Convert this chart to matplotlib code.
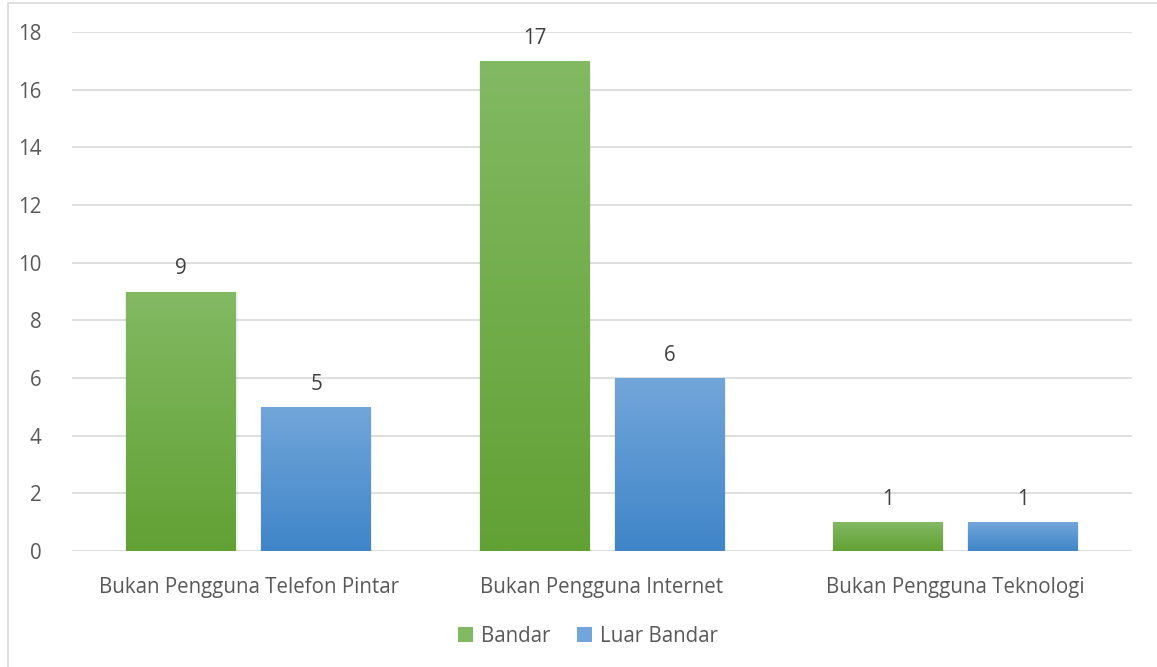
import numpy as np
import matplotlib.pyplot as plt
from matplotlib.colors import LinearSegmentedColormap
from matplotlib.patches import Rectangle

categories = ["Bukan Pengguna Telefon Pintar", "Bukan Pengguna Internet", "Bukan Pengguna Teknologi"]
bandar = [9, 17, 1]
luar_bandar = [5, 6, 1]
series = [("Bandar", bandar, "#82b963", "#62a134"), ("Luar Bandar", luar_bandar, "#72a6da", "#3f85c8")]

plt.rcParams['font.family'] = ['Open Sans', 'DejaVu Sans']
txt = "#595959"
fs = 14.8

fig = plt.figure(figsize=(11.57, 6.67), dpi=100)
ax = fig.add_axes([0.0622, 0.1739, 0.9162, 0.7781])

# chart frame
fig.patches.append(Rectangle((8/1157, -0.1), 1.2, 1 - 3/667 + 0.1, transform=fig.transFigure,
                             fill=False, edgecolor="#d9d9d9", linewidth=1.2))

x = np.arange(len(categories))
w = 0.311
offs = [-0.191, 0.191]
grad = np.linspace(1, 0, 256).reshape(-1, 1)

for (name, vals, ctop, cbot), off in zip(series, offs):
    cmap = LinearSegmentedColormap.from_list(name, [cbot, ctop])
    bars = ax.bar(x + off, vals, w, color=ctop, label=name, zorder=2)
    for b, v in zip(bars, vals):
        x0, y0 = b.get_x(), b.get_y()
        bw, bh = b.get_width(), b.get_height()
        # soft shadow
        ax.add_patch(Rectangle((x0 - 0.002, y0), bw + 0.006, bh - 0.03, color="#000000",
                               alpha=0.06, zorder=1.5, linewidth=0))
        im = ax.imshow(grad, cmap=cmap, aspect='auto', extent=[x0, x0 + bw, y0, y0 + bh],
                       zorder=2.5, interpolation='bilinear')
        im.set_clip_path(b)
        ax.text(x0 + bw / 2, v + 0.42, str(v), ha='center', va='bottom', fontsize=fs, color="#404040")

ax.set_xlim(-0.5, 2.5)
ax.set_ylim(0, 18)
ax.set_yticks(range(0, 19, 2))
ax.set_xticks(x)
ax.set_xticklabels(categories)
ax.tick_params(axis='both', length=0, labelsize=fs, labelcolor=txt)
ax.tick_params(axis='x', pad=19)
ax.tick_params(axis='y', pad=22)
ax.grid(axis='y', color="#d9d9d9", linewidth=1.2, zorder=0)
ax.set_axisbelow(True)
for s in ax.spines.values():
    s.set_visible(False)

leg = fig.legend(handles=[h for h in ax.containers], labels=[s[0] for s in series],
                 loc='center', bbox_to_anchor=(588/1157, 1 - 636/667), ncol=2, frameon=False,
                 fontsize=fs, handlelength=0.7, handleheight=0.7, handletextpad=0.4, columnspacing=1.3)
for t in leg.get_texts():
    t.set_color(txt)

fig.savefig("out.png", dpi=100)
